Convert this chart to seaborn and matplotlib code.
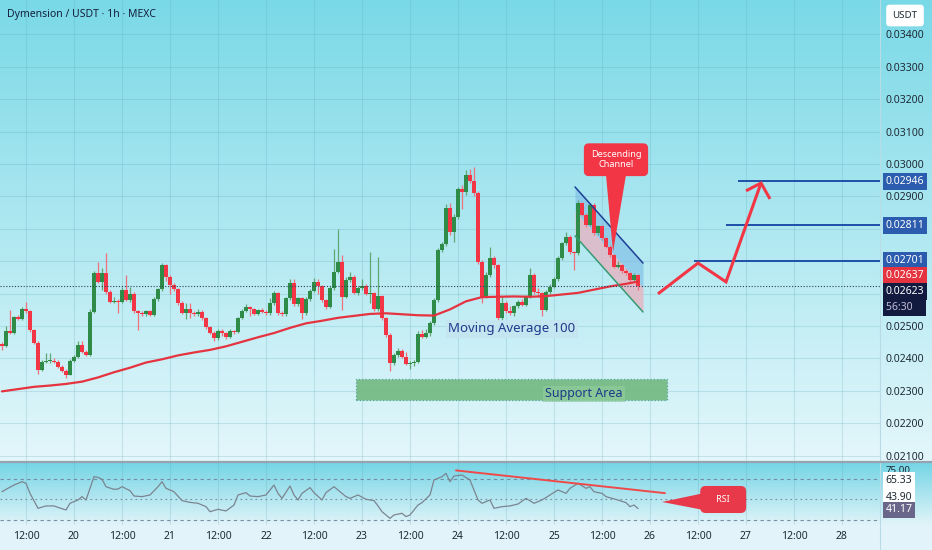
import numpy as np
import pandas as pd
import matplotlib
matplotlib.use("Agg")
import matplotlib.pyplot as plt
from matplotlib.patches import Rectangle, Polygon
from matplotlib.lines import Line2D
import seaborn as sns

# ---------------- data (prices in units of 0.00001 USDT) ----------------
SCALE = 1e-5
first_open = 2443
closes = [2439, 2484, 2479, 2527, 2522, 2552, 2546, 2487, 2448, 2364,
          2390, 2393, 2393, 2390, 2374, 2362, 2350, 2393, 2403, 2441,
          2421, 2410, 2544, 2662, 2637, 2662, 2606, 2575, 2577, 2573,
          2611, 2580, 2600, 2546, 2539, 2537, 2545, 2534, 2582, 2613,
          2688, 2652, 2627, 2614, 2572, 2541, 2552, 2539, 2537, 2544,
          2524, 2496, 2479, 2462, 2485, 2477, 2467, 2485, 2480, 2524,
          2547, 2558, 2552, 2537, 2549, 2544, 2539, 2570, 2603, 2539,
          2537, 2585, 2632, 2568, 2585, 2539, 2582, 2609, 2637, 2622,
          2580, 2559, 2616, 2667, 2698, 2590, 2642, 2650, 2602, 2616,
          2623, 2600, 2601, 2551, 2592, 2523, 2472, 2387, 2410, 2423,
          2405, 2384, 2385, 2390, 2475, 2467, 2479, 2508, 2580, 2734,
          2753, 2863, 2790, 2835, 2922, 2912, 2966, 2948, 2909, 2698,
          2590, 2657, 2709, 2688, 2524, 2570, 2545, 2539, 2560, 2575,
          2565, 2591, 2657, 2606, 2601, 2549, 2606, 2621, 2644, 2709,
          2755, 2774, 2727, 2724, 2879, 2843, 2812, 2874, 2786, 2807,
          2771, 2745, 2719, 2683, 2688, 2668, 2663, 2642, 2657, 2623]
highs = [2449, 2501, 2549, 2531, 2534, 2558, 2575, 2550, 2492, 2452,
         2396, 2415, 2415, 2400, 2394, 2378, 2366, 2397, 2410, 2455,
         2452, 2425, 2552, 2668, 2698, 2680, 2724, 2610, 2590, 2582,
         2620, 2657, 2620, 2604, 2550, 2545, 2550, 2550, 2590, 2618,
         2695, 2690, 2656, 2632, 2618, 2576, 2572, 2570, 2546, 2552,
         2549, 2528, 2500, 2483, 2490, 2490, 2480, 2490, 2488, 2528,
         2552, 2568, 2562, 2556, 2553, 2555, 2550, 2585, 2608, 2606,
         2545, 2590, 2645, 2644, 2590, 2590, 2590, 2615, 2647, 2645,
         2626, 2584, 2622, 2736, 2798, 2719, 2650, 2666, 2656, 2622,
         2645, 2628, 2729, 2606, 2714, 2596, 2528, 2478, 2415, 2432,
         2428, 2420, 2392, 2395, 2485, 2486, 2490, 2514, 2585, 2740,
         2760, 2875, 2880, 2845, 2930, 2935, 2981, 2985, 2990, 2915,
         2702, 2665, 2745, 2715, 2692, 2590, 2578, 2560, 2566, 2580,
         2582, 2596, 2680, 2662, 2618, 2606, 2612, 2628, 2650, 2715,
         2760, 2790, 2780, 2732, 2889, 2884, 2848, 2880, 2878, 2812,
         2812, 2776, 2750, 2722, 2700, 2692, 2675, 2667, 2662, 2660]
lows = [2426, 2436, 2474, 2476, 2518, 2519, 2540, 2482, 2444, 2351,
        2360, 2385, 2386, 2386, 2370, 2358, 2340, 2347, 2390, 2400,
        2417, 2406, 2407, 2540, 2632, 2610, 2600, 2570, 2570, 2539,
        2570, 2577, 2575, 2540, 2487, 2530, 2530, 2530, 2530, 2578,
        2608, 2640, 2600, 2608, 2566, 2536, 2520, 2524, 2530, 2530,
        2519, 2490, 2474, 2455, 2456, 2470, 2460, 2462, 2476, 2477,
        2520, 2543, 2530, 2533, 2534, 2539, 2535, 2534, 2566, 2535,
        2532, 2532, 2580, 2563, 2560, 2521, 2535, 2578, 2605, 2600,
        2575, 2553, 2555, 2612, 2662, 2549, 2585, 2636, 2598, 2597,
        2612, 2595, 2570, 2545, 2546, 2518, 2467, 2362, 2380, 2405,
        2400, 2378, 2367, 2376, 2386, 2462, 2463, 2470, 2504, 2575,
        2728, 2748, 2780, 2760, 2830, 2860, 2905, 2940, 2900, 2690,
        2570, 2585, 2650, 2680, 2519, 2519, 2540, 2534, 2530, 2555,
        2560, 2560, 2586, 2600, 2590, 2530, 2545, 2600, 2617, 2640,
        2705, 2750, 2722, 2673, 2720, 2838, 2806, 2808, 2780, 2780,
        2766, 2740, 2714, 2678, 2679, 2663, 2658, 2637, 2638, 2612]

ma_candles = list(range(0, 160, 4)) + [159]
ma100 = [2298, 2305, 2312, 2316, 2321, 2328, 2341, 2357, 2371, 2387,
         2397, 2409, 2418, 2426, 2437, 2451, 2465, 2478, 2494, 2508,
         2516, 2525, 2531, 2537, 2539, 2536, 2533, 2532, 2551, 2576,
         2589, 2590, 2591, 2590, 2592, 2597, 2602, 2612, 2622, 2630, 2637]

rsi_candles = [0, 1, 3, 5, 6, 7, 9, 11, 13, 14,
               16, 17, 19, 20, 21, 23, 24, 25, 26, 28,
               29, 30, 32, 33, 35, 37, 39, 40, 41, 43,
               45, 47, 49, 51, 52, 54, 56, 58, 59, 61,
               62, 64, 66, 68, 69, 70, 72, 73, 74, 75,
               77, 78, 80, 81, 83, 85, 86, 87, 89, 91,
               93, 94, 95, 97, 98, 100, 101, 102, 104, 105,
               107, 108, 110, 111, 112, 113, 115, 117, 119, 120,
               122, 123, 125, 127, 129, 131, 133, 135, 137, 139,
               141, 142, 144, 146, 147, 148, 150, 151, 154, 156,
               157, 158, 159]
rsi_values = [57.6, 59.9, 64.1, 67.4, 65.8, 56.0, 41.4, 43.7, 43.7, 42.3,
              39.8, 46.3, 49.5, 52.8, 49.5, 72.3, 71.6, 69.7, 62.5, 59.9,
              60.2, 62.5, 58.6, 53.4, 52.8, 54.4, 62.5, 67.4, 60.9, 57.6,
              48.9, 47.2, 46.3, 43.0, 38.1, 40.4, 38.8, 44.6, 54.4, 56.7,
              53.4, 52.8, 54.4, 64.1, 56.0, 51.1, 63.2, 54.4, 49.5, 56.0,
              61.6, 56.7, 49.5, 56.7, 62.5, 56.0, 52.8, 51.1, 54.4, 50.2,
              48.9, 43.7, 38.1, 31.6, 34.9, 36.5, 33.3, 34.9, 44.6, 46.9,
              54.4, 69.0, 72.3, 75.5, 67.4, 72.9, 73.9, 69.0, 49.5, 46.3,
              49.5, 41.4, 43.0, 43.7, 45.6, 51.1, 46.3, 49.5, 54.4, 59.3,
              56.0, 60.9, 65.8, 60.9, 62.5, 57.6, 56.0, 52.8, 49.5, 46.9,
              43.0, 44.6, 41.17]

x_tick_candles = [6 + 12 * k for k in range(18)]
x_tick_labels = ["12:00", "20", "12:00", "21", "12:00", "22", "12:00", "23", "12:00",
                 "24", "12:00", "25", "12:00", "26", "12:00", "27", "12:00", "28"]
price_ticks = [0.021, 0.022, 0.023, 0.024, 0.025, 0.026, 0.027, 0.028,
               0.029, 0.030, 0.031, 0.032, 0.033, 0.034]
hidden_ticks = [0.026, 0.027, 0.028]

target_levels = [0.02946, 0.02811, 0.02701]
target_starts = [184, 181, 173]
last_price = 0.02623
ma_last = 0.02637
countdown = "56:30"

# annotation geometry (candle index, price)
channel_x = [143.25, 160.25]
channel_upper = [0.02929, 0.02694]
channel_lower = [0.02778, 0.02543]
path_x = [164, 174, 181, 189.75]
path_y = [0.02599, 0.02694, 0.02636, 0.02941]
head_x = [186, 189.75, 192]
head_y = [0.02917, 0.02941, 0.02892]
support_x = (88.5, 166.25)
support_y = (0.02272, 0.02336)
rsi_trend_x = [113.5, 165.75]
rsi_trend_y = [78.4, 56.2]
rsi_levels = [70, 50, 30]

# ---------------- styling ----------------
sns.set_theme(style="white")
plt.rcParams['font.family'] = ['Noto Sans', 'DejaVu Sans']

GREEN = '#2e8b48'
RED = '#f23645'
NAVY = '#1d3a8a'
TXT = '#1e2a35'

W, H = 932, 550
fig = plt.figure(figsize=(W / 100, H / 100), dpi=100)

# background gradient
rows = np.arange(H)
img = np.zeros((H, 1, 3))
top_m, bot_m = np.array([122, 217, 231]), np.array([228, 247, 251])
top_r, bot_r = np.array([116, 213, 229]), np.array([226, 244, 249])
for r in rows:
    if r < 462:
        f = r / 461
        img[r, 0] = top_m + (bot_m - top_m) * f
    else:
        f = min((r - 462) / 63, 1.0)
        img[r, 0] = top_r + (bot_r - top_r) * f
bg = fig.add_axes([0, 0, 1, 1])
bg.imshow(img / 255, aspect='auto', extent=[0, 1, 0, 1])
bg.axis('off')

ax = fig.add_axes([0, 88 / H, 880 / W, 462 / H])
rax = fig.add_axes([0, 25 / H, 880 / W, 63 / H])
for a in (ax, rax):
    a.set_facecolor('none')
    a.set_zorder(2)
    for s in a.spines.values():
        s.set_visible(False)

XMIN, XMAX = -0.5, 219.5
ax.set_xlim(XMIN, XMAX)
ax.set_ylim(0.02080, 0.03506)
rax.set_xlim(XMIN, XMAX)
rax.set_ylim(25.1, 86.6)

# grid
grid_kw = dict(color='#5a9fb3', alpha=0.22, lw=0.8)
ax.set_xticks(x_tick_candles)
ax.tick_params(axis='x', labelbottom=False, length=0)
ax.yaxis.tick_right()
ax.set_yticks(price_ticks)
ax.set_yticklabels(['' if p in hidden_ticks else f"{p:.5f}" for p in price_ticks])
ax.tick_params(axis='y', length=0, pad=4, labelsize=7.5, labelcolor=TXT)
ax.grid(True, **grid_kw)

rax.set_xticks(x_tick_candles)
rax.set_xticklabels(x_tick_labels)
rax.tick_params(axis='x', length=0, pad=4, labelsize=7.5, labelcolor=TXT)
rax.get_xticklabels()[11].set_fontweight('bold')
rax.set_yticks([])
rax.grid(True, axis='x', **grid_kw)

# ---------------- candles ----------------
df = pd.DataFrame({'n': np.arange(len(closes)),
                   'close': np.array(closes) * SCALE,
                   'high': np.array(highs) * SCALE,
                   'low': np.array(lows) * SCALE})
df['open'] = df['close'].shift(1).fillna(first_open * SCALE)
up = df['close'] >= df['open']
body_col = np.where(up, GREEN, RED)
wick_col = np.where(up, '#5fa873', '#f0707b')
ax.vlines(df['n'], df['low'], df['high'], colors=wick_col, lw=0.9, zorder=3)
ax.bar(df['n'], (df['close'] - df['open']).abs().clip(lower=0.00003),
       bottom=np.minimum(df['open'], df['close']), width=0.8,
       color=body_col, linewidth=0, zorder=4)

# moving average
sns.lineplot(x=ma_candles, y=np.array(ma100) * SCALE, ax=ax, color='#e5333f',
             lw=1.6, zorder=5)

# current price dotted line
ax.axhline(last_price, color='#33415c', lw=0.8, ls=(0, (1, 1.6)), zorder=5)

# descending channel
ch_mid = [(u + l) / 2 for u, l in zip(channel_upper, channel_lower)]
ax.fill_between(channel_x, ch_mid, channel_upper, color='#7fbfe6', alpha=0.65, lw=0, zorder=2)
ax.fill_between(channel_x, channel_lower, ch_mid, color='#e6b4c2', alpha=0.8, lw=0, zorder=2)
ax.plot(channel_x, channel_upper, color='#1d3f95', lw=1.1, zorder=6)
ax.plot(channel_x, channel_lower, color='#379a72', lw=1.1, zorder=6)

# descending channel callout
ax.add_patch(Polygon([(151, 0.02966), (156, 0.02966), (152.75, 0.02728)],
                     closed=True, fc=RED, ec='none', zorder=7))
ax.text(153.5, 0.03013, "Descending\nChannel", ha='center', va='center',
        fontsize=6.6, color='white', fontweight='bold', linespacing=1.15, zorder=8,
        bbox=dict(boxstyle='round,pad=0.75,rounding_size=0.55', fc=RED, ec='none'))

# targets
ax.hlines(target_levels, target_starts, XMAX, color='#1e4fa8', lw=1.4, zorder=6)

# projected path
ax.plot(path_x, path_y, color=RED, lw=2.2, solid_joinstyle='miter',
        solid_capstyle='butt', zorder=7)
ax.plot(head_x, head_y, color=RED, lw=2.2, solid_joinstyle='miter',
        solid_capstyle='butt', zorder=7)

# support area
ax.add_patch(Rectangle((support_x[0], support_y[0]), support_x[1] - support_x[0],
                       support_y[1] - support_y[0], fc='#72b97f', alpha=0.9,
                       ec='#4f9f9a', ls=':', lw=0.9, zorder=2))
ax.text(145.5, 0.02290, "Support Area", ha='center', va='center', fontsize=9,
        color=NAVY, zorder=8,
        bbox=dict(boxstyle='square,pad=0.15', fc='#8fcb9c', ec='none', alpha=0.7))

ax.text(127.5, 0.02491, "Moving Average 100", ha='center', va='center', fontsize=9.5,
        color=NAVY, zorder=8,
        bbox=dict(boxstyle='square,pad=0.18', fc='#c4e5f1', ec='none', alpha=0.85))

# ---------------- right-scale tags ----------------
def tag(a, y, text, fc, tc, dy=0, fs=7.5):
    return a.annotate(text, xy=(1, y), xycoords=('axes fraction', 'data'),
                      xytext=(4, dy), textcoords='offset points', ha='left', va='center',
                      fontsize=fs, color=tc, annotation_clip=False, zorder=10,
                      bbox=None if fc is None else dict(boxstyle='square,pad=0.28',
                                                        fc=fc, ec='none'))

for lv in target_levels:
    tag(ax, lv, f"{lv:.5f}", '#2b5cad', 'white')
tag(ax, ma_last, f"{ma_last:.5f}", '#e5333f', 'white', dy=4.3)
tag(ax, last_price, f"{last_price:.5f}", '#121a40', 'white', dy=-4.0)
tag(ax, last_price, f"{countdown}    ", '#121a40', '#c2bcd6', dy=-15.5)

# ---------------- RSI panel ----------------
for lv, dash in zip(rsi_levels, [(0, (3, 3)), (0, (1.5, 3)), (0, (3, 3))]):
    rax.axhline(lv, color='#6f8398', lw=0.8, ls=dash, alpha=0.9, zorder=3)
sns.lineplot(x=rsi_candles, y=rsi_values, ax=rax, color='#7b8591', lw=0.9, zorder=4)
rax.plot(rsi_trend_x, rsi_trend_y, color='#ef4a4a', lw=1.4, zorder=5)
rax.add_patch(Polygon([(165, 47.6), (178, 58.3), (178, 37.8)], closed=True,
                      fc='#e8394a', ec='none', zorder=6))
rax.text(180.3, 50, "   RSI   ", ha='center', va='center', fontsize=6.5, color='white',
         fontweight='bold', zorder=7,
         bbox=dict(boxstyle='round,pad=1.0,rounding_size=0.6', fc='#e8394a', ec='none'))

tag(rax, 78.5, "75.00", None, TXT, fs=7)
tag(rax, 68.6, "65.33", 'white', TXT)
tag(rax, 52.4, "43.90", 'white', TXT)
tag(rax, 39.8, "41.17", '#69668a', 'white')

for a in (ax, rax):
    a.set_xlabel('')
    a.set_ylabel('')

# ---------------- frame lines, title ----------------
fig.add_artist(Line2D([0, 1], [88 / H, 88 / H], color='#98a3b0', lw=1.6, zorder=20))
fig.add_artist(Line2D([880 / W, 880 / W], [0, 1], color='#b9dbe5', lw=0.8, zorder=1))
fig.text(7 / W, 1 - 14 / H, "Dymension / USDT · 1h · MEXC", ha='left', va='center',
         fontsize=7.5, fontweight='bold', color='#14213d')
fig.text(905 / W, 1 - 15.5 / H, "USDT", ha='center', va='center', fontsize=7, color=TXT,
         bbox=dict(boxstyle='round,pad=0.65,rounding_size=0.35', fc='white', ec='none'))

fig.savefig('out.png', dpi=100)
